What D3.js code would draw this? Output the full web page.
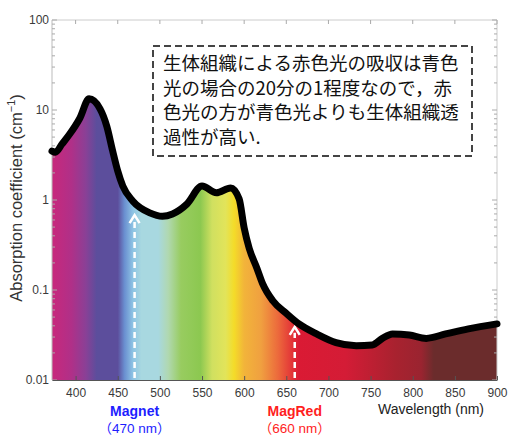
<!DOCTYPE html>
<html>
<head>
<meta charset="utf-8">
<script src="https://cdn.jsdelivr.net/npm/d3@7"></script>
<style>
  body { margin: 0; background: #fff; }
  svg { display: block; }
</style>
</head>
<body>
<svg id="chart" width="511" height="435"></svg>
<script>
// absorption curve (nm, cm^-1)
const wavelength = [372, 376, 384, 393, 405, 416, 429, 437, 444, 450, 456, 468, 488, 503, 515, 532, 550, 567, 584, 594, 600, 606, 615, 622, 634, 650, 665, 686, 709, 733, 752, 764, 776, 796, 816, 839, 866, 900];
const absorption = [3.5, 3.4, 4.2, 5.4, 8.1, 13.3, 10.3, 6.6, 3.5, 2.1, 1.43, 0.97, 0.72, 0.66, 0.70, 0.90, 1.43, 1.2, 1.36, 1.03, 0.49, 0.29, 0.176, 0.117, 0.076, 0.055, 0.042, 0.0325, 0.026, 0.024, 0.0245, 0.029, 0.0325, 0.0316, 0.029, 0.0325, 0.037, 0.042];

// spectrum colours under the curve
const specNm = [372, 395, 412, 425, 450, 458, 468, 478, 498, 510, 525, 548, 562, 578, 588, 600, 620, 640, 655, 665, 720, 780, 810, 825, 900];
const specColor = ["#c8287c", "#b03088", "#8a4096", "#5c4e9c", "#5c4e9c", "#6a8fd0", "#8ec4e4", "#a8d8e0", "#a8d8e0", "#b0d8b0", "#98cc60", "#8cc850", "#d0e060", "#e2e45a", "#f4dc28", "#f2b43a", "#f0a040", "#ec6a3c", "#e43a38", "#da1a34", "#d41c36", "#a8222f", "#9a2430", "#6b2c2c", "#6b2c2c"];

const xTicks = [400, 450, 500, 550, 600, 650, 700, 750, 800, 850, 900];
const yTicks = [0.01, 0.1, 1, 10, 100];
const yTickLabels = ["0.01", "0.1", "1", "10", "100"];

// LED markers
const ledName = ["Magnet", "MagRed"];
const ledNm = [470, 660];
const ledTip = [0.68, 0.039];
const ledColor = ["#1e1eff", "#ff1e1e"];

const note = ["生体組織による赤色光の吸収は青色", "光の場合の20分の1程度なので，赤", "色光の方が青色光よりも生体組織透", "過性が高い."];

const svg = d3.select("#chart");
const m = {left: 52, right: 497, top: 20, bottom: 380};

const x = d3.scaleLinear().domain([372, 900]).range([m.left, m.right]);
const y = d3.scaleLog().domain([0.01, 100]).range([m.bottom, m.top]);

const pts = wavelength.map((w, i) => [w, absorption[i]]);

// gradient
const grad = svg.append("defs").append("linearGradient")
  .attr("id", "spec")
  .attr("gradientUnits", "userSpaceOnUse")
  .attr("x1", x(372)).attr("x2", x(900)).attr("y1", 0).attr("y2", 0);
grad.selectAll("stop").data(specNm).join("stop")
  .attr("offset", d => (x(d) - x(372)) / (x(900) - x(372)))
  .attr("stop-color", (d, i) => specColor[i]);

const area = d3.area()
  .x(d => x(d[0])).y0(m.bottom).y1(d => y(d[1]))
  .curve(d3.curveMonotoneX);
const line = d3.line()
  .x(d => x(d[0])).y(d => y(d[1]))
  .curve(d3.curveMonotoneX);

svg.append("path").datum(pts).attr("d", area).attr("fill", "url(#spec)");

// frame
svg.append("line").attr("x1", m.left).attr("x2", m.right).attr("y1", m.top).attr("y2", m.top).attr("stroke", "#ccc");
svg.append("line").attr("x1", m.right).attr("x2", m.right).attr("y1", m.top).attr("y2", m.bottom).attr("stroke", "#ccc");
svg.append("line").attr("x1", m.left).attr("x2", m.left).attr("y1", m.top).attr("y2", m.bottom).attr("stroke", "#bbb");

// minor log ticks left and right
const minor = [];
for (let e = -2; e < 2; e++) for (let k = 1; k < 10; k++) minor.push(k * Math.pow(10, e));
minor.push(100);
svg.append("g").selectAll("line").data(minor).join("line")
  .attr("x1", m.left).attr("x2", d => m.left + (yTicks.includes(d) ? 5 : 3))
  .attr("y1", d => y(d)).attr("y2", d => y(d))
  .attr("stroke", "#aaa");
svg.append("g").selectAll("line").data(minor).join("line")
  .attr("x1", m.right).attr("x2", d => m.right - (yTicks.includes(d) ? 5 : 3))
  .attr("y1", d => y(d)).attr("y2", d => y(d))
  .attr("stroke", "#aaa");
svg.append("g").selectAll("line").data(xTicks).join("line")
  .attr("x1", d => x(d)).attr("x2", d => x(d))
  .attr("y1", m.top).attr("y2", m.top + 4)
  .attr("stroke", "#aaa");

// bottom axis
const xAxis = svg.append("g").attr("transform", `translate(0,${m.bottom})`)
  .call(d3.axisBottom(x).tickValues(xTicks).tickSize(-4).tickPadding(8).tickSizeOuter(0));
xAxis.select(".domain").attr("stroke", "#555");
xAxis.selectAll(".tick line").attr("stroke", "#555");
xAxis.selectAll("text").attr("font-family", "Liberation Sans, Arial, sans-serif")
  .attr("font-size", 12).attr("fill", "#3a3a3a");

// y tick labels
svg.append("g").selectAll("text").data(yTicks).join("text")
  .attr("x", m.left - 3).attr("y", d => y(d) + 4)
  .attr("text-anchor", "end")
  .attr("font-family", "Liberation Sans, Arial, sans-serif")
  .attr("font-size", 12).attr("fill", "#3a3a3a")
  .text((d, i) => yTickLabels[i]);

// arrows
ledNm.forEach((w, i) => {
  const ax = x(w), tip = y(ledTip[i]);
  svg.append("line").attr("x1", ax).attr("x2", ax)
    .attr("y1", m.bottom - 2).attr("y2", tip + 6)
    .attr("stroke", "#fff").attr("stroke-width", 2.5)
    .attr("stroke-dasharray", "6,4");
  svg.append("path")
    .attr("d", `M${ax - 5},${tip + 8} L${ax},${tip} L${ax + 5},${tip + 8}`)
    .attr("fill", "none").attr("stroke", "#fff").attr("stroke-width", 2.5);
});

// curve
svg.append("path").datum(pts).attr("d", line)
  .attr("fill", "none").attr("stroke", "#000")
  .attr("stroke-width", 7).attr("stroke-linejoin", "round").attr("stroke-linecap", "round");

// y label
const yl = svg.append("text")
  .attr("transform", `translate(22,${(m.top + m.bottom) / 2 - 2}) rotate(-90)`)
  .attr("text-anchor", "middle")
  .attr("font-family", "Liberation Sans, Arial, sans-serif")
  .attr("font-size", 16.5).attr("fill", "#333");
yl.append("tspan").text("Absorption coefficient (cm");
yl.append("tspan").attr("font-size", 11).attr("dy", -7).text("−1");
yl.append("tspan").attr("dy", 7).text(")");

svg.append("text").attr("x", 431).attr("y", 414)
  .attr("text-anchor", "middle")
  .attr("font-family", "Liberation Sans, Arial, sans-serif")
  .attr("font-size", 14).attr("fill", "#222")
  .text("Wavelength (nm)");

// LED names
ledNm.forEach((w, i) => {
  svg.append("text").attr("x", x(w)).attr("y", 416)
    .attr("text-anchor", "middle")
    .attr("font-family", "Liberation Sans, Arial, sans-serif")
    .attr("font-size", 14).attr("font-weight", "bold").attr("fill", ledColor[i])
    .text(ledName[i]);
  svg.append("text").attr("x", x(w)).attr("y", 433)
    .attr("text-anchor", "middle")
    .attr("font-family", "Liberation Sans, Noto Sans CJK JP, sans-serif")
    .attr("font-size", 13.5).attr("fill", ledColor[i])
    .text(`（${w} nm）`);
});

// note box
svg.append("rect").attr("x", 153).attr("y", 46).attr("width", 319).attr("height", 110)
  .attr("fill", "#fff").attr("stroke", "#444").attr("stroke-width", 2)
  .attr("stroke-dasharray", "7,4");
svg.append("g").selectAll("text").data(note).join("text")
  .attr("x", 163).attr("y", (d, i) => 70 + i * 24.5)
  .attr("font-family", "Noto Sans CJK JP, sans-serif")
  .attr("font-size", 18.5).attr("fill", "#111")
  .text(d => d);
</script>
</body>
</html>
